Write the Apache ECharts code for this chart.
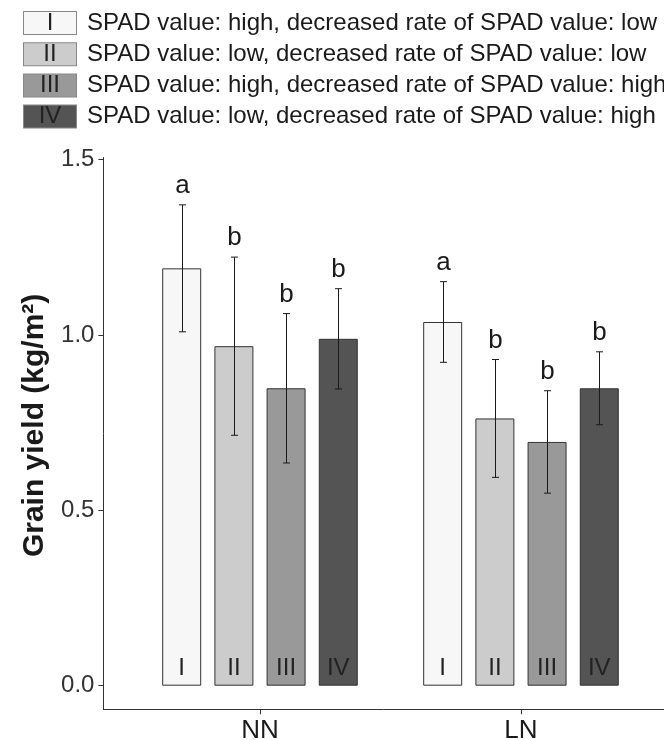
<!DOCTYPE html>
<html>
<head>
<meta charset="utf-8">
<script src="https://cdn.jsdelivr.net/npm/echarts@6/dist/echarts.min.js"></script>
<style>
html,body{margin:0;padding:0;background:#fff;}
#c{width:664px;height:740px;}
</style>
</head>
<body>
<div id="c"></div>
<script>
// ---- data ----
const groups = ['NN', 'LN'];
const numerals = ['I', 'II', 'III', 'IV'];
const seriesNames = [
  'SPAD value: high, decreased rate of SPAD value: low',
  'SPAD value: low, decreased rate of SPAD value: low',
  'SPAD value: high, decreased rate of SPAD value: high',
  'SPAD value: low, decreased rate of SPAD value: high'
];
// means per class, [NN, LN]
const meanI   = [1.190, 1.037];
const meanII  = [0.968, 0.762];
const meanIII = [0.848, 0.695];
const meanIV  = [0.989, 0.848];
// standard deviations per class, [NN, LN]
const sdI   = [0.181, 0.115];
const sdII  = [0.254, 0.168];
const sdIII = [0.213, 0.146];
const sdIV  = [0.143, 0.104];
// significance letters per class, [NN, LN]
const letI   = ['a', 'a'];
const letII  = ['b', 'b'];
const letIII = ['b', 'b'];
const letIV  = ['b', 'b'];
const yTicks = [0, 0.5, 1.0, 1.5];

const means = [meanI, meanII, meanIII, meanIV];
const sds = [sdI, sdII, sdIII, sdIV];
const letters = [letI, letII, letIII, letIV];
const fills = ['#f7f7f7', '#cccccc', '#999999', '#545454'];
const FONT = '"Liberation Sans", Arial, Helvetica, sans-serif';
const dodge = 0.2; // dodge step in category units

function xPos(gi, si) { return gi + 1 + (si - 1.5) * dodge; }

const series = [];
means.forEach((m, si) => {
  series.push({
    name: seriesNames[si],
    type: 'bar',
    z: 2,
    barWidth: 39,
    barGap: '-100%',
    itemStyle: { color: fills[si], borderColor: '#333', borderWidth: 1 },
    label: {
      show: true, position: 'insideBottom', distance: 5,
      formatter: () => numerals[si],
      fontFamily: FONT, fontSize: 24, color: '#222'
    },
    emphasis: { disabled: true },
    data: m.map((v, gi) => [xPos(gi, si), v])
  });
});

const errData = [];
const errLetters = [];
means.forEach((m, si) => {
  m.forEach((v, gi) => {
    errData.push([xPos(gi, si), v - sds[si][gi], v + sds[si][gi]]);
    errLetters.push(letters[si][gi]);
  });
});

series.push({
  type: 'custom',
  silent: true,
  z: 10,
  data: errData,
  encode: { x: 0, y: [1, 2] },
  renderItem: function (params, api) {
    const x = api.value(0);
    const lo = api.coord([x, api.value(1)]);
    const hi = api.coord([x, api.value(2)]);
    const hw = 3.5;
    const cx = Math.round(lo[0]) + 0.5;
    const st = { stroke: '#1a1a1a', lineWidth: 1 };
    return {
      type: 'group',
      children: [
        { type: 'line', shape: { x1: cx, y1: lo[1], x2: cx, y2: hi[1] }, style: st },
        { type: 'line', shape: { x1: cx - hw, y1: lo[1], x2: cx + hw, y2: lo[1] }, style: st },
        { type: 'line', shape: { x1: cx - hw, y1: hi[1], x2: cx + hw, y2: hi[1] }, style: st },
        { type: 'text', x: cx, y: hi[1] - 6,
          style: { text: errLetters[params.dataIndex], fill: '#1a1a1a', fontSize: 26,
                   fontFamily: FONT, align: 'center', verticalAlign: 'bottom' } }
      ]
    };
  }
});

const rich = { t: { fontFamily: FONT, fontSize: 24, color: '#1a1a1a', padding: [0, 0, 0, 11], lineHeight: 23 } };
fills.forEach((f, i) => {
  rich['b' + i] = {
    width: 52, height: 22, lineHeight: 22, align: 'center', verticalAlign: 'middle',
    backgroundColor: f, borderColor: '#888', borderWidth: 1,
    fontFamily: FONT, fontSize: 24, color: '#222'
  };
});

const chart = echarts.init(document.getElementById('c'), null, { renderer: 'canvas' });
chart.setOption({
  animation: false,
  backgroundColor: '#fff',
  legend: {
    orient: 'vertical', left: 14, top: 6,
    icon: 'none', itemWidth: 0, itemHeight: 23, itemGap: 7.2,
    selectedMode: false,
    data: seriesNames,
    formatter: function (name) {
      const i = seriesNames.indexOf(name);
      return '{b' + i + '|' + numerals[i] + '}{t|' + name + '}';
    },
    textStyle: { rich: rich }
  },
  grid: { left: 103.4, right: 0, top: 157.5, bottom: 30.7, containLabel: false, outerBoundsMode: 'none' },
  xAxis: {
    type: 'value', min: 0.4, max: 2.548,
    splitLine: { show: false },
    axisLine: { show: true, onZero: false, lineStyle: { color: '#333', width: 1 } },
    axisTick: { show: true, length: 5, customValues: [1, 2], lineStyle: { color: '#333' } },
    axisLabel: {
      customValues: [1, 2], margin: 9,
      formatter: v => groups[Math.round(v) - 1],
      fontFamily: FONT, fontSize: 26, color: '#1a1a1a'
    }
  },
  yAxis: {
    type: 'value', min: -0.0673, max: 1.506,
    name: 'Grain yield (kg/m²)', nameLocation: 'middle', nameGap: 54,
    nameTextStyle: { fontFamily: FONT, fontSize: 30, fontWeight: 'bold', color: '#1a1a1a',
                     padding: [0, 0, 0, 16] },
    splitLine: { show: false },
    axisLine: { show: true, onZero: false, lineStyle: { color: '#333', width: 1 } },
    axisTick: { show: true, length: 5, customValues: yTicks, lineStyle: { color: '#333' } },
    axisLabel: {
      customValues: yTicks, margin: 9,
      formatter: v => v.toFixed(1),
      fontFamily: FONT, fontSize: 24, color: '#333'
    }
  },
  series: series
});
</script>
</body>
</html>
